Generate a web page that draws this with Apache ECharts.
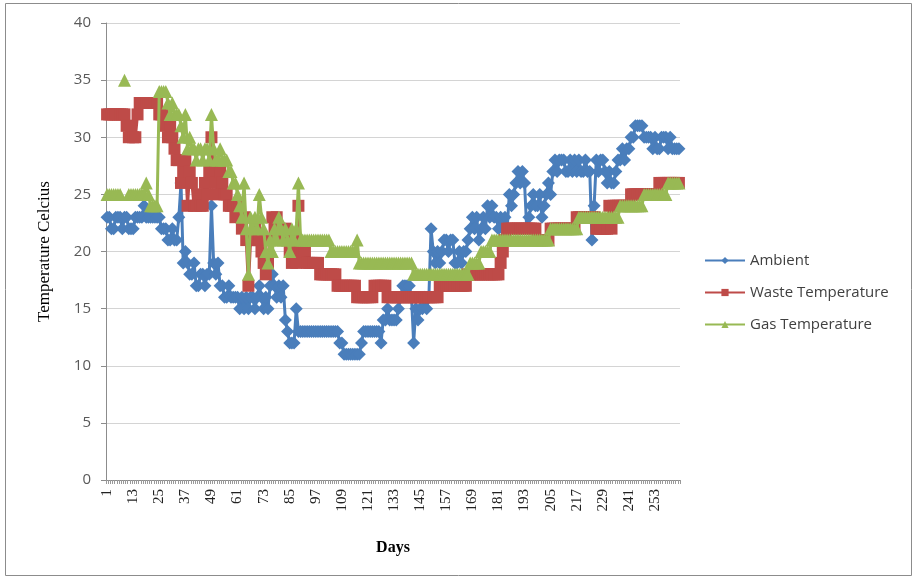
<!DOCTYPE html>
<html>
<head>
<meta charset="utf-8">
<script src="https://cdn.jsdelivr.net/npm/echarts@6/dist/echarts.min.js"></script>
<style>
  html, body { margin: 0; padding: 0; background: #ffffff; }
  #chart { width: 916px; height: 578px; }
</style>
</head>
<body>
<div id="chart"></div>
<script>
// Days of the monitoring period (one reading per day)
const days = Array.from({ length: 264 }, (_, i) => String(i + 1));

// Day numbers printed under the x axis
const dayTickLabels = ['1', '13', '25', '37', '49', '61', '73', '85', '97', '109', '121', '133',
  '145', '157', '169', '181', '193', '205', '217', '229', '241', '253'];

// Temperature axis ticks
const tempTicks = [0, 5, 10, 15, 20, 25, 30, 35, 40];

// Ambient air temperature, degrees Celsius
const ambient = [
  23, 23, 22, 22, 23, 23, 23, 22, 23, 23,
  22, 22, 22, 23, 23, 23, 23, 24, 23, 23,
  23, 23, 23, 23, 23, 22, 22, 22, 21, 21,
  22, 21, 21, 23, 26, 19, 20, 19, 18, 18,
  19, 17, 17, 18, 18, 17, 18, 18, 24, 19,
  18, 19, 17, 17, 16, 16, 17, 16, 16, 16,
  16, 15, 16, 15, 16, 15, 16, 16, 15, 16,
  17, 16, 15, 16, 15, 17, 18, 17, 16, 17,
  16, 17, 14, 13, 12, 12, 12, 15, 13, 13,
  13, 13, 13, 13, 13, 13, 13, 13, 13, 13,
  13, 13, 13, 13, 13, 13, 13, 12, 12, 11,
  11, 11, 11, 11, 11, 11, 11, 12, 13, 13,
  13, 13, 13, 13, 13, 13, 12, 14, 14, 15,
  14, 14, 14, 14, 15, 16, 17, 17, 17, 17,
  16, 12, 15, 14, 15, 15, 16, 15, 16, 22,
  20, 19, 20, 19, 20, 21, 21, 20, 21, 21,
  19, 19, 20, 19, 20, 20, 21, 22, 23, 22,
  23, 21, 22, 23, 22, 24, 23, 24, 23, 23,
  22, 23, 22, 23, 22, 25, 24, 25, 26, 27,
  26, 27, 26, 22, 23, 24, 25, 24, 24, 25,
  23, 24, 25, 26, 25, 27, 28, 27, 28, 28,
  28, 27, 27, 28, 27, 28, 27, 28, 27, 27,
  28, 27, 27, 21, 24, 28, 27, 28, 28, 27,
  26, 27, 26, 26, 27, 28, 28, 29, 28, 29,
  29, 30, 30, 31, 31, 31, 31, 30, 30, 30,
  30, 29, 30, 29, 29, 30, 30, 30, 29, 30,
  29, 29, 29, 29
];

// Waste temperature, degrees Celsius
const wasteTemp = [
  32, 32, 32, 32, 32, 32, 32, 32, 32, 31,
  30, 31, 30, 30, 32, 33, 33, 33, 33, 33,
  33, 33, 33, 33, 32, 32, 32, 31, 30, 31,
  30, 29, 28, 28, 26, 27, 28, 24, 27, 26,
  24, 24, 25, 24, 24, 26, 25, 27, 30, 27,
  26, 25, 27, 26, 25, 25, 24, 24, 24, 23,
  24, 24, 22, 23, 21, 17, 21, 21, 22, 21,
  21, 20, 19, 18, 19, 21, 23, 22, 23, 22,
  21, 21, 22, 21, 20, 19, 20, 19, 24, 20,
  20, 20, 19, 19, 19, 19, 19, 19, 18, 18,
  18, 18, 18, 18, 18, 18, 17, 17, 17, 17,
  17, 17, 17, 17, 17, 16, 16, 16, 16, 16,
  16, 16, 16, 17, 17, 17, 17, 17, 17, 16,
  16, 16, 16, 16, 16, 16, 16, 16, 16, 16,
  16, 16, 16, 16, 16, 16, 16, 16, 16, 16,
  16, 16, 16, 17, 17, 17, 17, 17, 17, 17,
  17, 17, 17, 17, 17, 17, 18, 18, 18, 18,
  18, 18, 18, 18, 18, 18, 18, 18, 18, 18,
  18, 19, 20, 21, 22, 22, 22, 22, 22, 22,
  22, 22, 22, 22, 22, 22, 22, 22, 21, 21,
  21, 21, 21, 21, 22, 22, 22, 22, 22, 22,
  22, 22, 22, 22, 22, 22, 23, 23, 23, 23,
  23, 23, 23, 23, 23, 22, 22, 22, 22, 22,
  22, 24, 22, 24, 24, 24, 24, 24, 24, 24,
  24, 25, 25, 25, 25, 25, 25, 25, 25, 25,
  25, 25, 25, 25, 26, 26, 26, 26, 26, 26,
  26, 26, 26, 26
];

// Biogas temperature, degrees Celsius (null = no reading that day)
const gasTemp = [
  25, 25, 25, 25, 25, 25, 25, null, 35, null,
  25, 25, 25, 25, 25, 25, 25, 25, 26, 25,
  24, 24, 24, 24, 34, 34, 34, 34, 33, 32,
  33, 32, 32, 32, 31, 30, 32, 29, 30, 29,
  29, 28, 29, 29, 28, 29, 29, 28, 32, 29,
  28, 28, 29, 28, 28, 28, 27, 27, 26, 26,
  25, 24, 23, 26, 22, 18, 23, 22, 23, 22,
  25, 23, 22, 20, 19, 21, 20, 22, 21, 23,
  22, 21, 22, 21, 20, 22, 21, 22, 26, 21,
  21, 21, 21, 21, 21, 21, 21, 21, 21, 21,
  21, 21, 21, 20, 20, 20, 20, 20, 20, 20,
  20, 20, 20, 20, 20, 21, 19, 19, 19, 19,
  19, 19, 19, 19, 19, 19, 19, 19, 19, 19,
  19, 19, 19, 19, 19, 19, 19, 19, 19, 19,
  19, 18, 18, 18, 18, 18, 18, 18, 18, 18,
  18, 18, 18, 18, 18, 18, 18, 18, 18, 18,
  18, 18, 18, 18, 18, 18, 18, 19, 19, 19,
  19, 19, 20, 20, 20, 20, 20, 21, 21, 21,
  21, 21, 21, 21, 21, 21, 21, 21, 21, 21,
  21, 21, 21, 21, 21, 21, 21, 21, 21, 21,
  21, 21, 21, 21, 22, 22, 22, 22, 22, 22,
  22, 22, 22, 22, 22, 22, 22, 23, 23, 23,
  23, 23, 23, 23, 23, 23, 23, 23, 23, 23,
  23, 23, 23, 23, 23, 23, 24, 24, 24, 24,
  24, 24, 24, 24, 24, 24, 24, 25, 25, 25,
  25, 25, 25, 25, 25, 25, 25, 25, 26, 26,
  26, 26, 26, 26
];

const BLUE = '#4A7EBB';
const RED = '#BE4B48';
const GREEN = '#98B954';

const chart = echarts.init(document.getElementById('chart'), null, { renderer: 'canvas' });

chart.setOption({
  animation: false,
  backgroundColor: '#ffffff',
  graphic: [{
    type: 'rect',
    shape: { x: 5.5, y: 3.5, width: 906, height: 572 },
    style: { fill: 'none', stroke: '#8c8c8c', lineWidth: 1 },
    silent: true,
    z: -1
  }],
  grid: { left: 106, right: 236, top: 23, bottom: 98, containLabel: false },
  legend: {
    orient: 'vertical',
    left: 699,
    top: 248,
    itemWidth: 40,
    itemHeight: 9,
    itemGap: 17,
    textStyle: { fontFamily: 'Open Sans', fontSize: 15, color: '#404040', lineHeight: 15 },
    data: ['Ambient', 'Waste Temperature', 'Gas Temperature']
  },
  xAxis: {
    type: 'category',
    data: days,
    boundaryGap: true,
    name: 'Days',
    nameLocation: 'middle',
    nameGap: 60,
    nameTextStyle: { fontFamily: 'Liberation Serif', fontSize: 16, fontWeight: 'bold', color: '#000000' },
    axisLine: { lineStyle: { color: '#8c8c8c', width: 1 } },
    axisTick: { show: true, interval: 0, length: 4, lineStyle: { color: '#9a9a9a' } },
    axisLabel: {
      interval: (idx, val) => dayTickLabels.includes(val),
      rotate: 90,
      margin: 9,
      fontFamily: 'Liberation Serif',
      fontSize: 15,
      color: '#222222'
    },
    splitLine: { show: false }
  },
  yAxis: {
    type: 'value',
    min: tempTicks[0],
    max: tempTicks[tempTicks.length - 1],
    interval: 5,
    name: 'Temperature Celcius',
    nameLocation: 'middle',
    nameGap: 53,
    nameTextStyle: { fontFamily: 'Liberation Serif', fontSize: 17, color: '#000000' },
    axisLine: { show: true, lineStyle: { color: '#8c8c8c', width: 1 } },
    axisTick: { show: true, length: 5, lineStyle: { color: '#8c8c8c' } },
    axisLabel: { fontFamily: 'Open Sans', fontSize: 15, color: '#595959', margin: 15 },
    splitLine: { show: true, lineStyle: { color: '#d4d4d4', width: 1 } }
  },
  series: [
    {
      name: 'Ambient',
      type: 'line',
      data: ambient,
      symbol: 'diamond',
      symbolSize: 13,
      showAllSymbol: true,
      lineStyle: { color: BLUE, width: 3 },
      itemStyle: { color: BLUE },
      z: 2
    },
    {
      name: 'Waste Temperature',
      type: 'line',
      data: wasteTemp,
      symbol: 'rect',
      symbolSize: 12,
      showAllSymbol: true,
      lineStyle: { color: RED, width: 3 },
      itemStyle: { color: RED },
      z: 3
    },
    {
      name: 'Gas Temperature',
      type: 'line',
      data: gasTemp,
      symbol: 'triangle',
      symbolSize: 13,
      showAllSymbol: true,
      connectNulls: false,
      lineStyle: { color: GREEN, width: 3 },
      itemStyle: { color: GREEN },
      z: 4
    }
  ]
});
</script>
</body>
</html>
